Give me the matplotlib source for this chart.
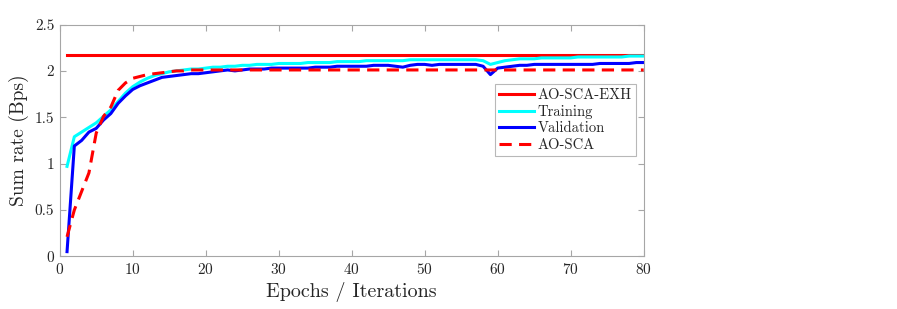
import matplotlib
matplotlib.use("Agg")
import matplotlib.pyplot as plt
import numpy as np

plt.rcParams['font.family'] = 'serif'
plt.rcParams['font.serif'] = ['cmr10']
plt.rcParams['mathtext.fontset'] = 'cm'
plt.rcParams['axes.formatter.use_mathtext'] = True

epochs = list(range(1, 81))

training = [0.97, 1.29, 1.34, 1.39, 1.44, 1.51, 1.58, 1.67, 1.76, 1.83,
            1.88, 1.92, 1.95, 1.97, 1.99, 2.00, 2.01, 2.02, 2.02, 2.03,
            2.04, 2.04, 2.05, 2.05, 2.06, 2.06, 2.07, 2.07, 2.07, 2.08,
            2.08, 2.08, 2.08, 2.09, 2.09, 2.09, 2.09, 2.10, 2.10, 2.10,
            2.10, 2.11, 2.11, 2.11, 2.11, 2.11, 2.11, 2.12, 2.12, 2.12,
            2.12, 2.12, 2.12, 2.12, 2.12, 2.12, 2.12, 2.11, 2.07, 2.09,
            2.11, 2.12, 2.13, 2.13, 2.13, 2.14, 2.14, 2.14, 2.14, 2.14,
            2.15, 2.15, 2.15, 2.15, 2.15, 2.15, 2.15, 2.16, 2.16, 2.16]

validation = [0.05, 1.19, 1.25, 1.34, 1.38, 1.47, 1.54, 1.65, 1.73, 1.80,
              1.84, 1.87, 1.90, 1.93, 1.94, 1.95, 1.96, 1.97, 1.97, 1.98,
              1.99, 2.00, 2.01, 2.00, 2.01, 2.02, 2.02, 2.02, 2.03, 2.03,
              2.03, 2.03, 2.03, 2.03, 2.04, 2.04, 2.04, 2.05, 2.05, 2.05,
              2.05, 2.05, 2.06, 2.06, 2.06, 2.05, 2.04, 2.06, 2.07, 2.07,
              2.06, 2.07, 2.07, 2.07, 2.07, 2.07, 2.07, 2.05, 1.96, 2.03,
              2.04, 2.05, 2.06, 2.06, 2.07, 2.07, 2.07, 2.07, 2.07, 2.07,
              2.07, 2.07, 2.07, 2.08, 2.08, 2.08, 2.08, 2.08, 2.09, 2.09]

ao_sca = [0.21, 0.50, 0.70, 0.90, 1.33, 1.51, 1.61, 1.79, 1.87, 1.92,
          1.94, 1.96, 1.97, 1.98, 1.99, 2.00, 2.00, 2.01, 2.01, 2.01] + [2.01] * 60

ao_sca_exh = [2.17] * 80

labels = ['AO-SCA-EXH', 'Training', 'Validation', 'AO-SCA']

fig = plt.figure(figsize=(8.97, 3.09), dpi=100)
ax = fig.add_axes([0.0666, 0.1706, 0.651, 0.750])

lw = 2.2
ax.plot(epochs, ao_sca_exh, color='#ff0000', lw=lw, label=labels[0])
ax.plot(epochs, training, color='#00ffff', lw=lw, label=labels[1])
ax.plot(epochs, validation, color='#0000ff', lw=lw, label=labels[2])
ax.plot(epochs, ao_sca, color='#ff0000', lw=lw, ls=(0, (4, 2.4)), label=labels[3])

ax.set_xlim(0, 80)
ax.set_ylim(0, 2.5)
ax.set_xticks(range(0, 81, 10))
ax.set_yticks([0, 0.5, 1, 1.5, 2, 2.5])
ax.set_yticklabels(['0', '0.5', '1', '1.5', '2', '2.5'])

for s in ax.spines.values():
    s.set_color('#a6a6a6')
    s.set_linewidth(0.8)
ax.tick_params(direction='in', top=True, right=True, color='#a6a6a6',
               labelsize=11, labelcolor='#262626', length=4, pad=4)

ax.set_xlabel('Epochs / Iterations', fontsize=14.5, color='#262626', labelpad=4)
ax.set_ylabel('Sum rate (Bps)', fontsize=14, color='#262626', labelpad=4)

leg = ax.legend(loc='upper right', bbox_to_anchor=(0.9865, 0.745), fontsize=10.5,
                frameon=True, fancybox=False, edgecolor='#a6a6a6',
                handlelength=2.4, handletextpad=0.2, borderpad=0.3,
                labelspacing=0.2, borderaxespad=0)
leg.get_frame().set_linewidth(0.8)
for t in leg.get_texts():
    t.set_color('#262626')

fig.savefig('out.png', dpi=100)
